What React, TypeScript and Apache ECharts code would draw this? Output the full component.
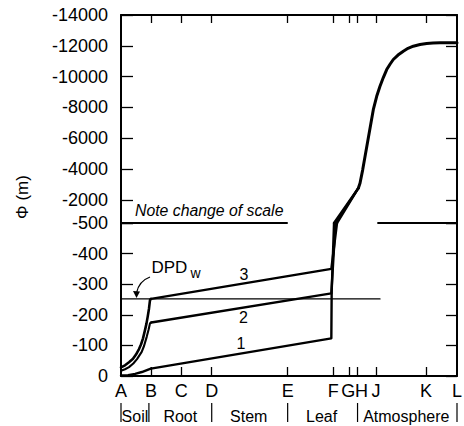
import React, { useEffect, useRef } from 'react';
import * as echarts from 'echarts';

// Stations along the soil-plant-atmosphere pathway (position along the x axis, 0..100)
const stationNames = ['A', 'B', 'C', 'D', 'E', 'F', 'G', 'H', 'J', 'K', 'L'];
const stationPos = [0, 8.9, 17.9, 27.0, 49.6, 63.2, 67.9, 70.4, 75.9, 90.8, 100];
const tickStations = ['B', 'C', 'D', 'E', 'F', 'G', 'H', 'J', 'K'];

// Regions under the axis
const regionNames = ['Soil', 'Root', 'Stem', 'Leaf', 'Atmosphere'];
const regionFrom = ['A', 'B', 'D', 'E', 'H'];
const regionTo = ['B', 'D', 'E', 'H', 'L'];

// Y scales (upper and lower panels, m)
const upperMin = -14000;
const upperMax = -500;
const upperStep = 2000;
const lowerMin = -500;
const lowerMax = 0;
const lowerStep = 100;

// Threshold line
const dpdW = -252;
const dpdEnd = 77.1;

// Scale-break line pieces (at -500)
const breakLeft = [[0, -500], [49.4, -500]];
const breakRight = [[76.5, -500], [100, -500]];

// Case 1
const line1Soil = [[0, -2], [2.1, -3], [4.2, -7], [6.2, -13], [8.1, -21], [8.9, -24]];
const line1Plant = [[8.9, -24], [62.6, -123], [62.7, -275], [63.4, -500]];
// Case 2
const line2Soil = [
  [0, -17], [1.19, -22], [2.38, -29], [3.66, -41], [4.76, -55], [6.16, -79],
  [6.85, -98], [7.65, -128], [8.18, -150], [8.63, -172], [9.0, -175],
];
const line2Plant = [[9.0, -175], [62.6, -270], [63.84, -500]];
// Case 3
const line3Soil = [
  [0, -28], [1.19, -35], [2.38, -45], [3.57, -56], [4.46, -70], [5.36, -88],
  [5.95, -103], [6.55, -123], [7.14, -150], [7.59, -172], [7.95, -194],
  [8.33, -220], [8.63, -248], [8.93, -252],
];
const line3Plant = [[8.93, -252], [62.6, -350], [64.29, -500]];

// Upper panel (leaf to atmosphere)
const leafUpper1 = [[63.4, -500], [70.63, -2759]];
const leafUpper2 = [[63.84, -500], [70.63, -2759]];
const leafUpper3 = [[64.29, -500], [70.63, -2759]];
const atmosphere = [
  [70.63, -2759], [71.13, -3084], [71.93, -3950], [75.09, -7856], [76.1, -8722],
  [77.08, -9373], [78.07, -9939], [79.08, -10460], [80.06, -10803], [81.04, -11111],
  [82.44, -11400], [84.02, -11652], [85.42, -11840], [86.99, -11977], [88.99, -12080],
  [90.98, -12153], [92.86, -12185], [94.94, -12198], [100, -12200],
];

const FONT = '"Liberation Sans", Arial, Helvetica, sans-serif';

const posOf = (name: string) => stationPos[stationNames.indexOf(name)];

export default function App() {
  const ref = useRef<HTMLDivElement>(null);

  useEffect(() => {
    if (!ref.current) return;
    const chart = echarts.init(ref.current, undefined, { renderer: 'svg' });

    const labelFor = (v: number) => {
      const i = stationPos.findIndex((p) => Math.abs(p - v) < 1e-6);
      if (i < 0) return '';
      const n = stationNames[i];
      if (n === 'H') return '{h|H}';
      if (n === 'G') return '{g|G}';
      return n;
    };

    const lineSeries = (
      name: string,
      data: number[][],
      idx: number,
      width: number,
      clip = true,
    ) => ({
      name,
      type: 'line',
      xAxisIndex: idx,
      yAxisIndex: idx * 2,
      data,
      symbol: 'none',
      smooth: false,
      clip,
      lineStyle: { color: '#000', width, join: 'round', cap: 'round' },
      z: 5,
    });

    const black = '#000';

    const option: any = {
      animation: false,
      backgroundColor: '#fff',
      grid: [
        { left: 121, top: 15, width: 336, height: 208, outerBoundsMode: 'none' },
        { left: 121, top: 223, width: 336, height: 153, outerBoundsMode: 'none' },
      ],
      xAxis: [
        {
          gridIndex: 0,
          type: 'value',
          min: 0,
          max: 100,
          position: 'top',
          axisLine: { show: true, lineStyle: { color: black, width: 2 } },
          axisTick: {
            show: true,
            inside: true,
            length: 8,
            lineStyle: { color: black, width: 1.3 },
            customValues: tickStations.map(posOf),
          },
          axisLabel: { show: false },
          splitLine: { show: false },
        },
        {
          gridIndex: 1,
          type: 'value',
          min: 0,
          max: 100,
          position: 'bottom',
          axisLine: { show: true, lineStyle: { color: black, width: 2 } },
          axisTick: {
            show: true,
            inside: true,
            length: 9,
            lineStyle: { color: black, width: 1.3 },
            customValues: tickStations.map(posOf),
          },
          axisLabel: {
            show: true,
            customValues: stationPos,
            formatter: labelFor,
            color: black,
            fontSize: 18,
            fontFamily: FONT,
            margin: 6,
            rich: {
              h: { fontSize: 18, fontFamily: FONT, color: black, padding: [0, 0, 0, 8] },
              g: { fontSize: 18, fontFamily: FONT, color: black, padding: [0, 2, 0, 0] },
            },
          },
          splitLine: { show: false },
        },
      ],
      yAxis: [
        {
          gridIndex: 0,
          type: 'value',
          inverse: true,
          min: upperMin,
          max: upperMax,
          interval: upperStep,
          position: 'left',
          axisLine: { show: true, lineStyle: { color: black, width: 2 } },
          axisTick: { show: true, inside: true, length: 12, lineStyle: { color: black, width: 1.3 } },
          axisLabel: {
            color: black,
            fontSize: 18,
            fontFamily: FONT,
            margin: 13,
            padding: [4, 0, 0, 0],
            formatter: (v: number) => (v === upperMax ? '' : String(v)),
          },
          splitLine: { show: false },
        },
        {
          gridIndex: 0,
          type: 'value',
          inverse: true,
          min: upperMin,
          max: upperMax,
          interval: upperStep,
          position: 'right',
          axisLine: { show: true, lineStyle: { color: black, width: 2 } },
          axisTick: { show: true, inside: true, length: 11, lineStyle: { color: black, width: 1.3 } },
          axisLabel: { show: false },
          splitLine: { show: false },
        },
        {
          gridIndex: 1,
          type: 'value',
          inverse: true,
          min: lowerMin,
          max: lowerMax,
          interval: lowerStep,
          position: 'left',
          axisLine: { show: true, lineStyle: { color: black, width: 2 } },
          axisTick: { show: true, inside: true, length: 12, lineStyle: { color: black, width: 1.3 } },
          axisLabel: {
            color: black,
            fontSize: 18,
            fontFamily: FONT,
            margin: 13,
            formatter: (v: number) => String(v),
          },
          splitLine: { show: false },
        },
        {
          gridIndex: 1,
          type: 'value',
          inverse: true,
          min: lowerMin,
          max: lowerMax,
          interval: lowerStep,
          position: 'right',
          axisLine: { show: true, lineStyle: { color: black, width: 2 } },
          axisTick: { show: true, inside: true, length: 11, lineStyle: { color: black, width: 1.3 } },
          axisLabel: { show: false },
          splitLine: { show: false },
        },
      ],
      series: [
        lineSeries('breakLeft', breakLeft, 1, 2, false),
        lineSeries('breakRight', breakRight, 1, 2, false),
        lineSeries('DPDw', [[0, dpdW], [dpdEnd, dpdW]], 1, 1.2),
        lineSeries('1 soil', line1Soil, 1, 2.4),
        lineSeries('1 plant', line1Plant, 1, 2.4),
        lineSeries('2 soil', line2Soil, 1, 2.1),
        lineSeries('2 plant', line2Plant, 1, 2.4),
        lineSeries('3 soil', line3Soil, 1, 2.6),
        lineSeries('3 plant', line3Plant, 1, 2.4),
        lineSeries('leaf 1', leafUpper1, 0, 2.4, false),
        lineSeries('leaf 2', leafUpper2, 0, 2.4, false),
        lineSeries('leaf 3', leafUpper3, 0, 2.4, false),
        lineSeries('atmosphere', atmosphere, 0, 3, false),
      ],
    };

    chart.setOption(option);

    // Annotations derived from axis positions
    const px = (name: string) => chart.convertToPixel({ xAxisIndex: 1 }, posOf(name)) as number;
    const py = (v: number) => chart.convertToPixel({ yAxisIndex: 2 }, v) as number;

    const bounds = Array.from(new Set([...regionFrom, ...regionTo]));
    const graphic: any[] = [];
    bounds.forEach((b) => {
      const x = px(b) - (b === 'B' ? 2 : 0);
      graphic.push({
        type: 'line',
        shape: { x1: x, y1: 403, x2: x, y2: 422 },
        style: { stroke: black, lineWidth: 1.2 },
      });
    });
    regionNames.forEach((n, i) => {
      const cx = (px(regionFrom[i]) + px(regionTo[i])) / 2;
      graphic.push({
        type: 'text',
        x: cx - 1,
        y: 416,
        style: { text: n, font: `16px ${FONT}`, fill: black, textAlign: 'center', textVerticalAlign: 'middle' },
      });
    });

    graphic.push({
      type: 'text',
      x: 22,
      y: 197,
      rotation: Math.PI / 2,
      style: { text: 'Φ (m)', font: `17px ${FONT}`, fill: black, textAlign: 'center', textVerticalAlign: 'middle' },
    });
    graphic.push({
      type: 'text',
      x: 135,
      y: 210,
      style: { text: 'Note change of scale', font: `italic 15.8px ${FONT}`, fill: black, textAlign: 'left', textVerticalAlign: 'middle' },
    });
    graphic.push({
      type: 'text',
      x: 151.5,
      y: 267.5,
      style: { text: 'DPD', font: `17px ${FONT}`, fill: black, textAlign: 'left', textVerticalAlign: 'middle' },
    });
    graphic.push({
      type: 'text',
      x: 190.5,
      y: 273,
      style: { text: 'w', font: `14px ${FONT}`, fill: black, textAlign: 'left', textVerticalAlign: 'middle' },
    });
    const dy = py(dpdW);
    graphic.push({
      type: 'bezierCurve',
      shape: { x1: 150, y1: 277, cpx1: 139, cpy1: 281, x2: 136.5, y2: dy - 6 },
      style: { stroke: black, lineWidth: 1.3, fill: 'none' },
    });
    graphic.push({
      type: 'polygon',
      shape: { points: [[136.5, dy - 1], [133, dy - 8], [140, dy - 7.5]] },
      style: { fill: black },
    });
    [['3', 244, 274], ['2', 243.5, 317], ['1', 241, 343.5]].forEach(([t, x, y]) => {
      graphic.push({
        type: 'text',
        x,
        y,
        style: { text: t, font: `16px ${FONT}`, fill: black, textAlign: 'center', textVerticalAlign: 'middle' },
      });
    });

    chart.setOption({ graphic });

    return () => chart.dispose();
  }, []);

  return (
    <div
      ref={ref}
      style={{ position: 'absolute', left: 0, top: 0, width: 464, height: 426, background: '#fff' }}
    />
  );
}
